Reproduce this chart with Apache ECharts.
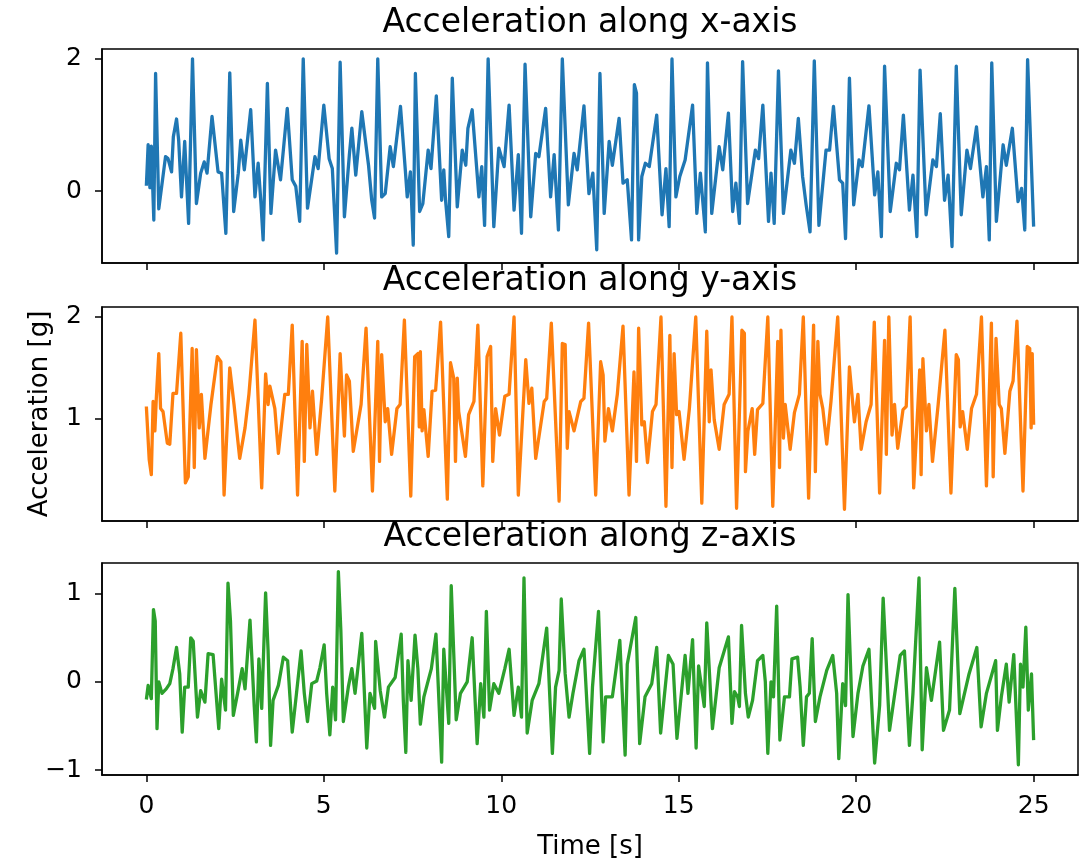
<!DOCTYPE html>
<html>
<head>
<meta charset="utf-8">
<script src="https://cdn.jsdelivr.net/npm/echarts@6/dist/echarts.min.js"></script>
<style>
html,body{margin:0;padding:0;background:#fff;}
#chart{width:1086px;height:861px;}
</style>
</head>
<body>
<div id="chart"></div>
<script>
// ---- data: [time (s), acceleration (g)] ----
const accelX = [[0,0.08],[0.05,0.70],[0.10,0.05],[0.14,0.68],[0.21,-0.44],[0.26,1.78],[0.35,-0.27],[0.54,0.52],[0.61,0.49],[0.71,0.29],[0.76,0.82],[0.85,1.09],[0.91,0.77],[0.99,-0.09],[1.08,0.75],[1.19,-0.49],[1.30,2.00],[1.41,-0.19],[1.53,0.27],[1.63,0.44],[1.71,0.27],[1.85,1.13],[2.02,0.29],[2.12,0.27],[2.24,-0.64],[2.35,1.79],[2.46,-0.31],[2.59,0.27],[2.66,0.77],[2.76,0.32],[2.94,1.23],[3.06,-0.09],[3.15,0.42],[3.23,-0.19],[3.29,-0.74],[3.41,1.63],[3.51,-0.34],[3.64,0.62],[3.78,0.17],[3.86,0.62],[3.97,1.25],[4.11,0.17],[4.21,0.07],[4.32,-0.46],[4.42,2.00],[4.54,-0.26],[4.75,0.52],[4.84,0.34],[5.00,1.30],[5.15,0.49],[5.24,0.34],[5.36,-0.94],[5.46,1.95],[5.58,-0.39],[5.72,0.55],[5.79,0.95],[5.90,0.24],[6.07,1.20],[6.26,0.39],[6.35,-0.14],[6.43,-0.41],[6.52,2.00],[6.63,-0.09],[6.73,-0.04],[6.87,0.67],[6.96,0.37],[7.16,1.28],[7.30,0.29],[7.35,-0.09],[7.44,0.29],[7.52,-0.82],[7.58,1.78],[7.70,-0.31],[7.79,-0.19],[7.94,0.62],[8.02,0.34],[8.17,1.44],[8.32,-0.14],[8.38,0.32],[8.43,-0.14],[8.52,-0.69],[8.62,1.71],[8.76,-0.24],[8.90,0.62],[9.00,0.39],[9.06,0.95],[9.18,1.23],[9.37,-0.09],[9.45,0.37],[9.53,-0.52],[9.63,2.00],[9.79,-0.54],[9.93,0.65],[10.08,0.37],[10.22,1.30],[10.36,-0.29],[10.48,0.55],[10.57,-0.64],[10.67,1.92],[10.83,-0.39],[10.97,0.57],[11.06,0.52],[11.25,1.25],[11.39,-0.09],[11.49,0.55],[11.61,-0.59],[11.72,2.00],[11.89,-0.21],[12.05,0.57],[12.14,0.32],[12.33,1.29],[12.47,-0.04],[12.58,0.27],[12.69,-0.89],[12.78,1.78],[12.90,-0.34],[13.04,0.75],[13.13,0.39],[13.32,1.10],[13.43,0.12],[13.55,0.17],[13.67,-0.74],[13.75,1.61],[13.81,1.48],[13.87,-0.74],[13.96,0.22],[14.06,0.42],[14.17,0.37],[14.38,1.15],[14.53,-0.36],[14.64,0.34],[14.73,-0.54],[14.81,2.00],[14.92,-0.09],[15.03,0.22],[15.18,0.47],[15.39,1.30],[15.51,-0.34],[15.61,0.27],[15.75,-0.62],[15.81,1.94],[15.93,-0.34],[16.14,0.67],[16.24,0.32],[16.40,1.18],[16.52,-0.31],[16.61,0.12],[16.71,-0.49],[16.80,1.96],[16.94,-0.19],[17.16,0.62],[17.25,0.49],[17.37,1.30],[17.53,-0.46],[17.60,0.27],[17.69,-0.49],[17.81,1.82],[17.95,-0.34],[18.16,0.62],[18.26,0.42],[18.37,1.10],[18.49,0.22],[18.59,-0.21],[18.70,-0.62],[18.82,1.97],[18.95,-0.52],[19.15,0.62],[19.25,0.62],[19.36,1.28],[19.53,0.17],[19.62,0.12],[19.70,-0.72],[19.81,1.71],[19.93,-0.21],[20.08,0.47],[20.17,0.37],[20.36,1.29],[20.52,-0.06],[20.61,0.29],[20.71,-0.69],[20.80,1.89],[20.96,-0.31],[21.13,0.42],[21.22,0.32],[21.33,1.15],[21.50,-0.29],[21.60,0.24],[21.71,-0.69],[21.80,1.83],[21.97,-0.36],[22.16,0.47],[22.26,0.37],[22.37,1.17],[22.49,-0.14],[22.59,0.24],[22.70,-0.84],[22.82,1.89],[22.96,-0.36],[23.12,0.62],[23.22,0.34],[23.39,0.97],[23.57,-0.09],[23.67,0.37],[23.75,-0.74],[23.82,1.94],[23.95,-0.46],[24.14,0.70],[24.23,0.39],[24.40,0.95],[24.56,-0.16],[24.66,0.04],[24.75,-0.59],[24.83,1.99],[25.00,-0.54]];

const accelY = [[0,1.12],[0.08,0.60],[0.14,0.45],[0.19,1.17],[0.24,0.88],[0.28,1.20],[0.35,1.64],[0.40,1.10],[0.47,1.07],[0.59,0.76],[0.66,0.75],[0.75,1.25],[0.85,1.25],[0.97,1.84],[1.10,0.37],[1.18,0.43],[1.29,1.69],[1.35,0.52],[1.41,1.68],[1.49,0.91],[1.55,1.24],[1.65,0.61],[1.82,1.14],[2.00,1.61],[2.10,1.56],[2.19,0.25],[2.35,1.50],[2.47,1.14],[2.63,0.61],[2.78,0.91],[2.89,1.24],[3.06,1.97],[3.25,0.32],[3.36,1.44],[3.43,1.14],[3.48,1.32],[3.62,1.10],[3.72,0.66],[3.90,1.24],[4.00,1.24],[4.11,1.92],[4.26,0.25],[4.39,1.76],[4.45,0.58],[4.52,1.73],[4.61,0.91],[4.68,1.27],[4.80,0.65],[4.94,1.20],[5.11,2.00],[5.31,0.29],[5.46,1.64],[5.58,0.83],[5.64,1.43],[5.72,1.37],[5.83,0.68],[6.05,1.14],[6.19,1.89],[6.37,0.29],[6.52,1.76],[6.57,0.58],[6.63,1.63],[6.73,0.97],[6.80,1.10],[6.91,0.65],[7.06,1.10],[7.15,1.14],[7.27,1.97],[7.45,0.24],[7.56,1.61],[7.65,1.64],[7.69,0.92],[7.72,1.66],[7.77,0.88],[7.82,1.09],[7.94,0.63],[8.05,1.27],[8.15,1.28],[8.29,1.95],[8.48,0.21],[8.57,1.55],[8.66,1.40],[8.71,0.58],[8.76,1.40],[8.80,1.07],[8.99,0.63],[9.08,1.04],[9.23,1.17],[9.34,1.92],[9.48,0.34],[9.60,1.61],[9.70,1.71],[9.76,0.58],[9.84,1.10],[9.95,0.84],[10.10,1.22],[10.22,1.24],[10.36,2.00],[10.48,0.25],[10.69,1.58],[10.78,1.15],[10.86,1.30],[10.97,0.61],[11.21,1.17],[11.28,1.20],[11.41,1.94],[11.63,0.19],[11.72,1.74],[11.80,1.73],[11.86,0.71],[11.91,1.07],[12.05,0.88],[12.24,1.17],[12.33,1.20],[12.46,1.94],[12.66,0.25],[12.80,1.56],[12.87,1.43],[12.92,0.78],[13.02,1.10],[13.13,0.88],[13.27,1.24],[13.43,1.91],[13.60,0.25],[13.74,1.46],[13.81,0.58],[13.87,1.89],[13.96,0.94],[14.03,0.97],[14.12,0.57],[14.26,1.07],[14.36,1.14],[14.50,2.00],[14.64,0.14],[14.75,1.82],[14.81,0.52],[14.87,1.64],[14.94,1.04],[15.01,1.07],[15.15,0.60],[15.30,1.10],[15.48,2.00],[15.65,0.17],[15.79,1.86],[15.86,0.97],[15.91,1.48],[16.00,0.99],[16.14,0.70],[16.28,1.14],[16.42,1.24],[16.50,2.00],[16.63,0.12],[16.78,1.87],[16.85,1.84],[16.88,0.48],[16.95,0.88],[17.07,1.10],[17.14,0.65],[17.22,1.09],[17.37,1.15],[17.51,2.00],[17.65,0.14],[17.79,1.76],[17.84,0.52],[17.88,1.87],[17.95,0.81],[18.00,1.14],[18.14,0.70],[18.26,1.06],[18.40,1.24],[18.51,2.00],[18.66,0.22],[18.80,1.92],[18.85,0.48],[18.92,1.76],[18.98,1.24],[19.06,1.10],[19.17,0.75],[19.29,1.17],[19.48,2.00],[19.67,0.11],[19.81,1.51],[19.88,1.24],[19.95,0.97],[20.05,1.24],[20.14,0.70],[20.28,0.97],[20.42,1.14],[20.51,1.95],[20.66,0.27],[20.80,1.77],[20.85,0.65],[20.92,2.00],[21.01,0.84],[21.08,1.14],[21.17,0.71],[21.32,1.09],[21.41,1.12],[21.52,2.00],[21.62,0.32],[21.79,1.48],[21.83,0.45],[21.88,1.59],[21.98,0.88],[22.05,1.14],[22.15,0.58],[22.31,1.14],[22.50,1.87],[22.67,0.27],[22.82,1.63],[22.88,1.58],[22.93,0.92],[23.00,1.07],[23.13,0.70],[23.25,1.10],[23.39,1.24],[23.53,2.00],[23.67,0.34],[23.81,1.94],[23.86,0.43],[23.94,1.79],[24.03,1.14],[24.09,1.10],[24.19,0.66],[24.33,1.27],[24.42,1.37],[24.53,1.96],[24.70,0.29],[24.82,1.71],[24.89,1.69],[24.93,0.91],[24.96,1.64],[25.00,0.94]];

const accelZ = [[0,-0.20],[0.05,-0.04],[0.10,-0.06],[0.14,-0.19],[0.20,0.82],[0.25,0.69],[0.30,-0.53],[0.35,0.00],[0.44,-0.13],[0.56,-0.08],[0.66,-0.02],[0.75,0.15],[0.85,0.39],[0.94,0.09],[1.01,-0.57],[1.08,-0.06],[1.18,-0.06],[1.25,0.50],[1.32,0.46],[1.44,-0.40],[1.53,-0.10],[1.65,-0.23],[1.74,0.32],[1.88,0.31],[2.04,-0.53],[2.12,0.03],[2.23,-0.32],[2.30,1.12],[2.37,0.69],[2.45,-0.38],[2.57,-0.13],[2.70,0.15],[2.78,-0.08],[2.92,0.70],[3.04,-0.28],[3.10,-0.68],[3.17,0.26],[3.25,-0.30],[3.36,1.01],[3.43,0.35],[3.50,-0.72],[3.57,-0.21],[3.72,-0.04],[3.86,0.28],[3.98,0.24],[4.11,-0.57],[4.23,-0.13],[4.36,0.35],[4.45,-0.13],[4.54,-0.45],[4.66,-0.02],[4.80,0.01],[4.89,0.16],[5.01,0.42],[5.08,-0.13],[5.17,-0.60],[5.25,-0.06],[5.33,-0.43],[5.41,1.25],[5.48,0.58],[5.55,-0.45],[5.69,-0.06],[5.79,0.15],[5.88,-0.13],[6.07,0.55],[6.21,-0.75],[6.30,-0.13],[6.43,-0.30],[6.46,0.46],[6.59,-0.10],[6.71,-0.40],[6.82,-0.06],[7.01,0.05],[7.18,0.54],[7.24,-0.21],[7.31,-0.80],[7.37,0.24],[7.46,-0.21],[7.57,0.53],[7.65,0.15],[7.72,-0.48],[7.82,-0.17],[8.03,0.15],[8.16,0.54],[8.32,-0.91],[8.38,0.37],[8.52,-0.47],[8.59,1.09],[8.73,-0.43],[8.85,-0.13],[9.04,0.00],[9.18,0.50],[9.32,-0.70],[9.42,-0.02],[9.51,-0.40],[9.58,0.80],[9.67,-0.32],[9.79,-0.02],[9.93,-0.13],[10.10,0.15],[10.22,0.37],[10.36,-0.38],[10.48,-0.06],[10.57,-0.40],[10.64,1.18],[10.73,-0.58],[10.87,-0.21],[11.06,-0.02],[11.28,0.61],[11.44,-0.81],[11.53,-0.06],[11.63,0.13],[11.69,0.94],[11.80,0.09],[11.91,-0.40],[12.02,-0.13],[12.19,0.24],[12.33,0.37],[12.49,-0.81],[12.57,-0.06],[12.74,0.80],[12.87,-0.68],[12.94,-0.17],[13.13,-0.17],[13.23,0.13],[13.34,0.47],[13.49,-0.83],[13.55,0.20],[13.79,0.73],[13.90,-0.70],[14.05,-0.17],[14.24,-0.02],[14.38,0.39],[14.49,-0.58],[14.71,0.30],[14.84,0.20],[14.95,-0.64],[15.18,0.30],[15.26,-0.13],[15.39,0.48],[15.49,-0.75],[15.56,0.18],[15.72,-0.28],[15.79,0.67],[15.95,-0.53],[16.14,0.16],[16.40,0.51],[16.50,-0.47],[16.57,-0.11],[16.66,-0.17],[16.71,-0.28],[16.77,0.64],[16.88,-0.13],[16.96,-0.40],[17.08,-0.21],[17.22,0.24],[17.37,0.30],[17.44,0.00],[17.51,-0.81],[17.60,0.00],[17.67,-0.17],[17.76,0.86],[17.85,-0.66],[17.98,-0.17],[18.12,-0.17],[18.19,0.26],[18.35,0.28],[18.42,-0.06],[18.51,-0.72],[18.60,-0.17],[18.68,-0.13],[18.76,0.49],[18.85,-0.45],[18.98,-0.17],[19.17,0.13],[19.34,0.30],[19.45,-0.13],[19.51,-0.87],[19.62,-0.02],[19.70,-0.27],[19.77,0.99],[19.91,-0.62],[20.05,-0.13],[20.19,0.18],[20.36,0.37],[20.52,-0.92],[20.66,-0.27],[20.76,0.95],[20.94,-0.55],[21.24,0.30],[21.36,0.35],[21.50,-0.72],[21.60,-0.13],[21.77,1.18],[21.86,-0.77],[21.98,0.16],[22.12,-0.21],[22.35,0.45],[22.46,-0.55],[22.63,-0.32],[22.78,1.06],[22.92,-0.36],[23.18,0.09],[23.40,0.39],[23.52,-0.51],[23.67,-0.13],[23.93,0.24],[23.98,-0.55],[24.09,-0.17],[24.23,0.20],[24.31,-0.23],[24.44,0.31],[24.57,-0.94],[24.63,0.20],[24.70,-0.06],[24.78,0.62],[24.85,-0.32],[24.94,0.09],[25.00,-0.66]];

const titles = ['Acceleration along x-axis', 'Acceleration along y-axis', 'Acceleration along z-axis'];
const colors = ['#1f77b4', '#ff7f0e', '#2ca02c'];
const xTicks = [0, 5, 10, 15, 20, 25];
const yTicks = [[0, 2], [1, 2], [-1, 0, 1]];
const yRanges = [[-1.09, 2.15], [-0.005, 2.098], [-1.056, 1.348]];
const xRange = [-1.25, 26.25];
const seriesData = [accelX, accelY, accelZ];

// ---- layout ----
const FONT = 'DejaVu Sans';
const gridTops = [49, 307, 563];
const gridH = 214;
const titleTops = [7, 265, 521];

const chart = echarts.init(document.getElementById('chart'), null, {renderer: 'canvas'});
const fmt = v => String(v).replace('-', '\u2212');

const option = {
  animation: false,
  backgroundColor: '#fff',
  title: titles.map((t, i) => ({
    text: t, left: 590, top: titleTops[i], textAlign: 'center', padding: 0,
    textStyle: {fontFamily: FONT, fontSize: 33, fontWeight: 'normal', color: '#000'}
  })),
  grid: gridTops.map(t => ({
    left: 102, right: 8, top: t, height: gridH, show: true,
    borderColor: '#000', borderWidth: 1.5, backgroundColor: 'transparent', containLabel: false
  })),
  xAxis: [0, 1, 2].map(i => ({
    type: 'value', gridIndex: i, min: xRange[0], max: xRange[1],
    name: i === 2 ? 'Time [s]' : '', nameLocation: 'middle', nameGap: 59,
    nameTextStyle: {fontFamily: FONT, fontSize: 26, color: '#000'},
    axisLine: {show: true, onZero: false, lineStyle: {color: '#000', width: 1.5}},
    axisTick: {show: true, length: 7, customValues: xTicks, lineStyle: {color: '#000', width: 1.5}},
    axisLabel: {show: i === 2, customValues: xTicks, margin: 19, fontFamily: FONT, fontSize: 25, color: '#000', formatter: fmt},
    splitLine: {show: false}
  })),
  yAxis: [0, 1, 2].map(i => ({
    type: 'value', gridIndex: i, min: yRanges[i][0], max: yRanges[i][1],
    name: i === 1 ? 'Acceleration [g]' : '', nameLocation: 'middle', nameGap: 49,
    nameTextStyle: {fontFamily: FONT, fontSize: 26, color: '#000'},
    axisLine: {show: true, onZero: false, lineStyle: {color: '#000', width: 1.5}},
    axisTick: {show: true, length: 7, customValues: yTicks[i], lineStyle: {color: '#000', width: 1.5}},
    axisLabel: {show: true, customValues: yTicks[i], margin: 20, fontFamily: FONT, fontSize: 25, color: '#000', formatter: fmt},
    splitLine: {show: false}
  })),
  series: seriesData.map((d, i) => ({
    type: 'line', xAxisIndex: i, yAxisIndex: i, data: d,
    showSymbol: false, symbol: 'none', clip: true,
    lineStyle: {color: colors[i], width: 3.3, join: 'round'},
    emphasis: {disabled: true}
  }))
};
chart.setOption(option);
</script>
</body>
</html>
